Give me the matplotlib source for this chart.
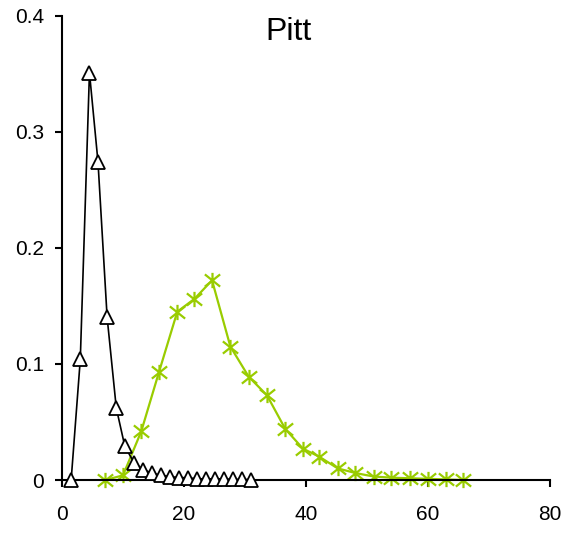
import matplotlib
matplotlib.use('Agg')
import matplotlib.pyplot as plt
from matplotlib.path import Path

plt.rcParams['font.family'] = ['Liberation Sans', 'DejaVu Sans']

# black series (open triangles)
tri_x = [1.5, 3.0, 4.5, 5.9, 7.4, 8.9, 10.3, 11.8, 13.3, 14.7, 16.2,
         17.7, 19.2, 20.6, 22.1, 23.6, 25.0, 26.5, 28.0, 29.5, 31.0]
tri_y = [0.0, 0.104, 0.351, 0.274, 0.140, 0.062, 0.029, 0.015, 0.009, 0.006, 0.004,
         0.003, 0.002, 0.002, 0.001, 0.001, 0.001, 0.001, 0.0005, 0.0005, 0.0003]

# green series (asterisks)
ast_x = [7.1, 10.0, 13.0, 15.9, 18.9, 21.7, 24.6, 27.6, 30.6, 33.6, 36.6,
         39.5, 42.2, 45.2, 48.1, 51.1, 54.0, 57.0, 60.0, 62.9, 65.7]
ast_y = [0.0, 0.004, 0.042, 0.093, 0.145, 0.156, 0.172, 0.115, 0.089, 0.073, 0.044,
         0.027, 0.020, 0.010, 0.006, 0.003, 0.002, 0.0015, 0.001, 0.0005, 0.0]

title = 'Pitt'
green = '#99cc00'

# excel-style asterisk: an X with a vertical stroke
star = Path([(-1, -0.8), (1, 0.8), (-1, 0.8), (1, -0.8), (0, -1), (0, 1)],
            [Path.MOVETO, Path.LINETO, Path.MOVETO, Path.LINETO, Path.MOVETO, Path.LINETO])

fig = plt.figure(figsize=(5.71, 5.33), dpi=100)
ax = fig.add_axes([62 / 571, 53 / 533, (550 - 62) / 571, (480 - 15.7) / 533])

ax.plot(ast_x, ast_y, color=green, lw=1.6, marker=star, ms=11,
        mec=green, mew=1.6, zorder=2)
ax.plot(tri_x, tri_y, color='black', lw=1.2, marker='^', ms=10.5,
        mfc='white', mec='black', mew=1.3, zorder=3)

ax.set_xlim(0, 80)
ax.set_ylim(0, 0.4)
ax.set_xticks([0, 20, 40, 60, 80])
ax.set_yticks([0, 0.1, 0.2, 0.3, 0.4])
ax.set_yticklabels(['0', '0.1', '0.2', '0.3', '0.4'])

for s in ['top', 'right']:
    ax.spines[s].set_visible(False)
for s in ['left', 'bottom']:
    ax.spines[s].set_linewidth(1.5)
ax.tick_params(direction='out', length=5, width=1.5, labelsize=15)
ax.tick_params(axis='x', pad=13)
ax.tick_params(axis='y', pad=8)
for c in ax.collections + ax.lines:
    c.set_clip_on(False)

ax.text(37.2, 0.386, title, fontsize=23, ha='center', va='center')

fig.savefig('out.png', dpi=100)
